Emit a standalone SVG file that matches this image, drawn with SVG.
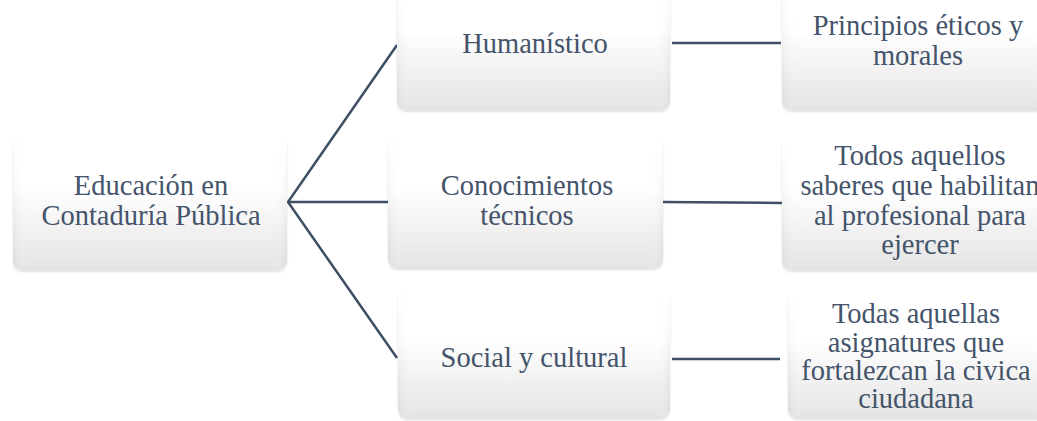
<svg xmlns="http://www.w3.org/2000/svg" width="1037" height="421" viewBox="0 0 1037 421">
<defs>
<linearGradient id="gloss" x1="0" y1="0" x2="0" y2="1">
<stop offset="0" stop-color="#ffffff"/>
<stop offset="0.4" stop-color="#ffffff"/>
<stop offset="1" stop-color="#e4e4e4"/>
</linearGradient>
<linearGradient id="side" x1="0" y1="0" x2="1" y2="0">
<stop offset="0" stop-color="#d0d0d0" stop-opacity="0.45"/>
<stop offset="0.05" stop-color="#ffffff" stop-opacity="0"/>
<stop offset="0.95" stop-color="#ffffff" stop-opacity="0"/>
<stop offset="1" stop-color="#d0d0d0" stop-opacity="0.45"/>
</linearGradient>
<linearGradient id="fade" x1="0" y1="0" x2="0" y2="1">
<stop offset="0" stop-color="#fff" stop-opacity="0"/>
<stop offset="1" stop-color="#fff" stop-opacity="1"/>
</linearGradient>
<mask id="lower" maskContentUnits="objectBoundingBox">
<rect x="0" y="0" width="1" height="1" fill="url(#fade)"/>
</mask>
<filter id="sh" x="-5%" y="-5%" width="110%" height="115%">
<feGaussianBlur in="SourceAlpha" stdDeviation="1.2"/>
<feOffset dy="2"/>
<feComponentTransfer><feFuncA type="linear" slope="0.12"/></feComponentTransfer>
<feMerge><feMergeNode/><feMergeNode in="SourceGraphic"/></feMerge>
</filter>
</defs>
<style>
.box{fill:url(#gloss);filter:url(#sh)}
.edge{fill:url(#side);mask:url(#lower)}
.t{font-family:"Liberation Serif","Times New Roman",serif;font-size:28.5px;fill:#44546a;text-anchor:middle}
.c{stroke:#3e4e63;stroke-width:2.5;fill:none}
</style>
<rect width="1037" height="421" fill="#ffffff"/>
<g id="connectors">
<polyline class="c" points="397,45 288,202 397,358"/>
<line class="c" x1="288" y1="202" x2="388" y2="202"/>
<line class="c" x1="672" y1="43" x2="781" y2="43"/>
<line class="c" x1="663" y1="202" x2="782" y2="203"/>
<line class="c" x1="672" y1="359" x2="780" y2="359"/>
</g>
<g id="node-root">
<rect class="box" x="13" y="134" width="274" height="136" rx="9"/>
<rect class="edge" x="13" y="134" width="274" height="136" rx="9"/>
<text class="t" x="151" y="195">Educación en</text>
<text class="t" x="151" y="225">Contaduría Pública</text>
</g>
<g id="node-humanistico">
<rect class="box" x="397" y="-22" width="273" height="132" rx="9"/>
<rect class="edge" x="397" y="-22" width="273" height="132" rx="9"/>
<text class="t" x="535" y="53">Humanístico</text>
</g>
<g id="node-conocimientos">
<rect class="box" x="388" y="136" width="275" height="132" rx="9"/>
<rect class="edge" x="388" y="136" width="275" height="132" rx="9"/>
<text class="t" x="527" y="195">Conocimientos</text>
<text class="t" x="527" y="225">técnicos</text>
</g>
<g id="node-social">
<rect class="box" x="398" y="290" width="272" height="128" rx="9"/>
<rect class="edge" x="398" y="290" width="272" height="128" rx="9"/>
<text class="t" x="534" y="367">Social y cultural</text>
</g>
<g id="node-principios">
<rect class="box" x="782" y="-22" width="270" height="132" rx="9"/>
<rect class="edge" x="782" y="-22" width="270" height="132" rx="9"/>
<text class="t" x="918" y="35">Principios éticos y</text>
<text class="t" x="918" y="65">morales</text>
</g>
<g id="node-saberes">
<rect class="box" x="782" y="138" width="270" height="132" rx="9"/>
<rect class="edge" x="782" y="138" width="270" height="132" rx="9"/>
<text class="t" x="920" y="165">Todos aquellos</text>
<text class="t" x="920" y="195">saberes que habilitan</text>
<text class="t" x="920" y="225">al profesional para</text>
<text class="t" x="920" y="254">ejercer</text>
</g>
<g id="node-asignaturas">
<rect class="box" x="788" y="290" width="264" height="128" rx="9"/>
<rect class="edge" x="788" y="290" width="264" height="128" rx="9"/>
<text class="t" x="916" y="323">Todas aquellas</text>
<text class="t" x="916" y="352">asignatures que</text>
<text class="t" x="916" y="380">fortalezcan la civica</text>
<text class="t" x="916" y="408">ciudadana</text>
</g>
</svg>
